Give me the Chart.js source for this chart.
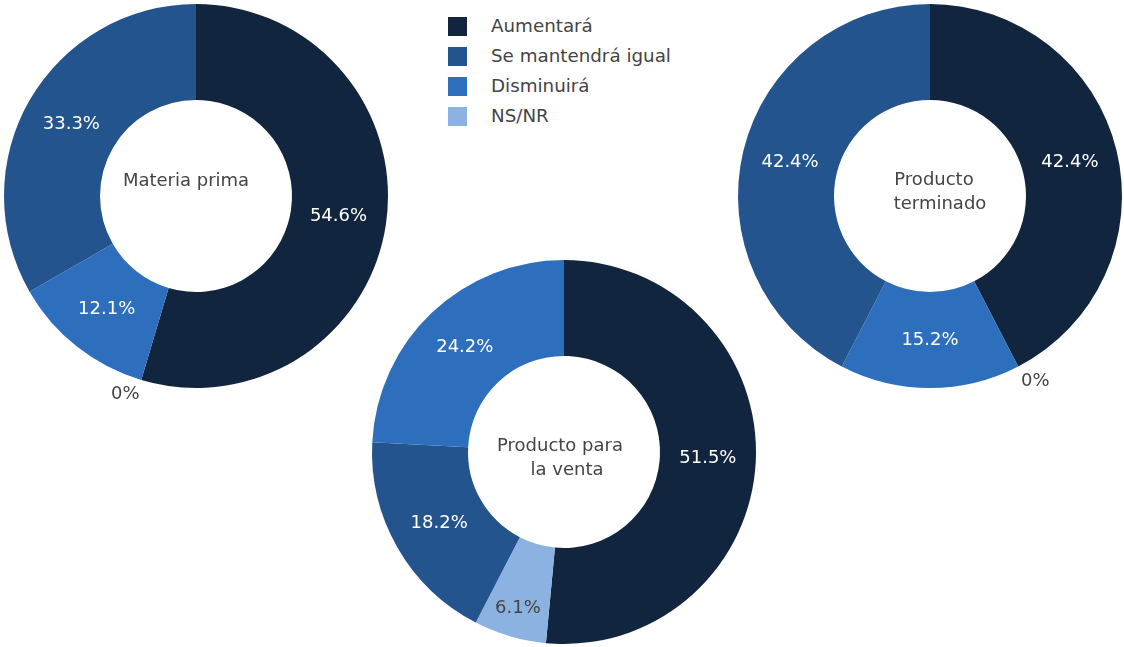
<!DOCTYPE html>
<html>
<head>
<meta charset="utf-8">
<script src="https://cdn.jsdelivr.net/npm/chart.js@4.4.1/dist/chart.umd.min.js"></script>
<style>
    body { margin: 0; background: #fff; width: 1124px; height: 647px; position: relative; overflow: hidden;
           font-family: "DejaVu Sans", Verdana, sans-serif; }
    canvas { position: absolute; }
    #legend { position: absolute; left: 448px; top: 16px; }
    .item { height: 30px; position: relative; }
    .box { position: absolute; left: 0; top: 1px; width: 19px; height: 19px; }
    .txt { position: absolute; left: 43px; top: -1px; font-size: 18.3px; color: #444; white-space: nowrap; }
</style>
</head>
<body>
<div id="legend"></div>
<canvas id="materiaChart" width="460" height="460" style="left:-34px;top:-34px"></canvas>
<canvas id="ventaChart" width="460" height="460" style="left:334px;top:222px"></canvas>
<canvas id="terminadoChart" width="460" height="460" style="left:700px;top:-34px"></canvas>
<script>
// categories (legend order)
var categories = ["Aumentará", "Se mantendrá igual", "Disminuirá", "NS/NR"];
var colors = ["#12253f", "#24548e", "#2e6fbd", "#8cb2e2"];

// percentages per chart, in legend order
var materiaPrima = [54.6, 33.3, 12.1, 0];
var productoVenta = [51.5, 18.2, 24.2, 6.1];
var productoTerminado = [42.4, 42.4, 15.2, 0];

// slice order (clockwise from the top) for each donut
var orderMateria = [0, 3, 2, 1];
var orderVenta = [0, 3, 1, 2];
var orderTerminado = [0, 3, 2, 1];

// legend
var legend = document.getElementById("legend");
categories.forEach(function (c, i) {
    var row = document.createElement("div");
    row.className = "item";
    row.innerHTML = '<div class="box" style="background:' + colors[i] + '"></div><div class="txt">' + c + '</div>';
    legend.appendChild(row);
});

var FONT = '18px "DejaVu Sans", Verdana, sans-serif';

var sliceLabels = {
    id: 'sliceLabels',
    afterDatasetsDraw: function (chart) {
        var ctx = chart.ctx;
        var meta = chart.getDatasetMeta(0);
        var values = chart.data.datasets[0].data;
        var total = values.reduce(function (a, b) { return a + b; }, 0);
        ctx.save();
        ctx.font = FONT;
        ctx.textAlign = 'center';
        ctx.textBaseline = 'middle';
        meta.data.forEach(function (arc, i) {
            var p = arc.getProps(['x', 'y', 'startAngle', 'endAngle', 'innerRadius', 'outerRadius'], true);
            var v = values[i];
            var txt = v + '%';
            var a = (p.startAngle + p.endAngle) / 2;
            var cx = Math.cos(a), cy = Math.sin(a);
            if (v === 0) {
                var w = ctx.measureText(txt).width;
                var r0 = p.outerRadius + 6;
                ctx.fillStyle = '#444';
                ctx.fillText(txt, p.x + cx * r0 + Math.sign(cx) * w / 2, p.y + cy * r0 + Math.sign(cy) * 9);
            } else {
                var frac = v / total;
                var r = p.innerRadius + (p.outerRadius - p.innerRadius) * (frac < 0.1 ? 0.7 : 0.5);
                ctx.fillStyle = chart.data.labels[i] === "NS/NR" ? '#444' : '#fff';
                ctx.fillText(txt, p.x + cx * r, p.y + cy * r);
            }
        });
        ctx.restore();
    }
};

var centerTitle = {
    id: 'centerTitle',
    afterDraw: function (chart) {
        var t = chart.options.plugins.centerTitle;
        var ctx = chart.ctx;
        var meta = chart.getDatasetMeta(0);
        var x = meta.data[0].x, y = meta.data[0].y;
        ctx.save();
        ctx.font = FONT;
        ctx.fillStyle = '#444';
        ctx.textAlign = 'center';
        ctx.textBaseline = 'middle';
        t.lines.forEach(function (line, i) {
            ctx.fillText(line, x + t.dx[i], y + t.dy[i]);
        });
        ctx.restore();
    }
};

function makeDonut(id, values, order, title) {
    var labels = order.map(function (k) { return categories[k]; });
    var data = order.map(function (k) { return values[k]; });
    var bg = order.map(function (k) { return colors[k]; });
    new Chart(id, {
        type: "doughnut",
        data: {
            labels: labels,
            datasets: [{
                data: data,
                backgroundColor: bg,
                borderWidth: 0
            }]
        },
        options: {
            responsive: false,
            animation: false,
            radius: 192,
            cutout: '50%',
            layout: { padding: 0 },
            plugins: {
                legend: { display: false },
                tooltip: { enabled: false },
                centerTitle: title
            }
        },
        plugins: [sliceLabels, centerTitle]
    });
}

makeDonut("materiaChart", materiaPrima, orderMateria,
    { lines: ["Materia prima"], dx: [-10], dy: [-15] });
makeDonut("ventaChart", productoVenta, orderVenta,
    { lines: ["Producto para", "la venta"], dx: [-4, 3], dy: [-6, 18] });
makeDonut("terminadoChart", productoTerminado, orderTerminado,
    { lines: ["Producto", "terminado"], dx: [4, 10], dy: [-16, 8] });
</script>
</body>
</html>
